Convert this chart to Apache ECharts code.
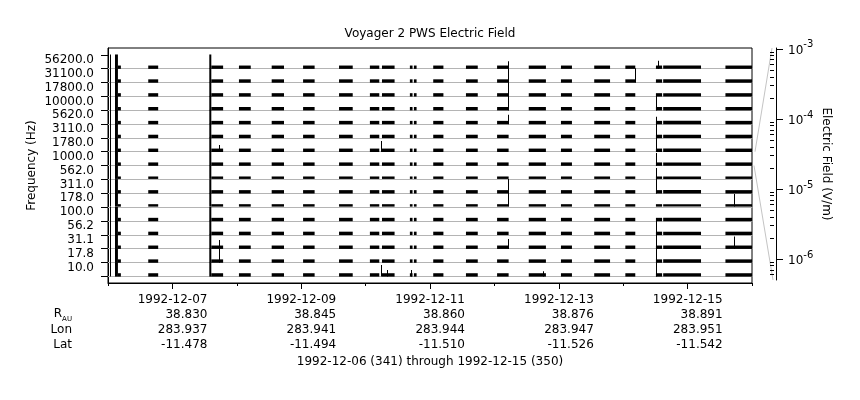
<!DOCTYPE html>
<html><head><meta charset="utf-8">
<script src="https://cdn.jsdelivr.net/npm/echarts@6/dist/echarts.min.js"></script>
<style>html,body{margin:0;padding:0;background:#fff}#c{width:860px;height:400px}</style>
</head><body><div id="c"></div>
<script>
// ---------------- data ----------------
// channel labels, bottom row first
const freqLabels = ['10.0','17.8','31.1','56.2','100.0','178.0','311.0','562.0','1000.0','1780.0','3110.0','5620.0','10000.0','17800.0','31100.0','56200.0'];
// x tick labels (hours since 1992-12-06 00:00)
const tickHours = [24, 72, 120, 168, 216];
const tickDates = ['1992-12-07','1992-12-09','1992-12-11','1992-12-13','1992-12-15'];
const tickR   = ['38.830','38.845','38.860','38.876','38.891'];
const tickLon = ['283.937','283.941','283.944','283.947','283.951'];
const tickLat = ['-11.478','-11.494','-11.510','-11.526','-11.542'];
// data coverage intervals [start h, end h]
const segments = [[3.7,4.8],[15.0,18.7],[38.5,42.9],[48.8,53.2],[61.0,65.6],[72.7,77.0],[86.1,91.2],
  [97.6,101.1],[102.1,106.8],[112.5,113.5],[114.0,115.0],[121.2,125.0],[133.4,137.8],[145.0,149.3],
  [156.8,163.2],[168.8,172.9],[181.2,187.1],[192.8,196.5],[204.2,206.5],[206.9,221.0],[230.1,240.0]];
// broadband bursts seen in every channel [start h, end h]
const bursts = [[0.9,1.25],[2.6,3.7],[37.75,38.5]];
const burstPeak = 1.2e-3;
// background envelope per channel (V/m), bottom row first
const rowLo = [4.3e-7,4.3e-7,4.3e-7,4.3e-7,4.3e-7,6.5e-7,4.3e-7,6.5e-7,4.3e-7,4.3e-7,4.3e-7,4.3e-7,4.3e-7,4.3e-7,4.3e-7,4.3e-7];
const rowHi = [2.8e-6,2.8e-6,2.8e-6,2.8e-6,2.8e-6,2.5e-6,2.8e-6,2.5e-6,2.8e-6,2.8e-6,2.8e-6,2.8e-6,2.8e-6,2.8e-6,2.8e-6,2.7e-6];
// isolated spikes [hour, channel index, peak V/m]
const spikes = [
  [41.7,9,2.0e-5],[41.7,1,1.2e-3],[41.7,2,6e-5],
  [102.1,9,1.9e-4],[102.1,0,2.7e-4],[104.3,0,1.7e-5],[113.2,0,1.7e-5],
  [149.3,15,2.9e-5],[149.3,14,1.2e-3],[149.3,13,1.2e-3],[149.3,12,1.2e-3],[149.3,11,8.5e-5],
  [149.3,6,1.2e-3],[149.3,5,1.2e-3],[149.3,2,1.0e-4],
  [162.2,0,8e-6],
  [196.5,14,1.2e-3],
  [205.1,15,4e-5],[204.4,12,1.2e-3],[204.4,11,2.9e-5],[204.4,10,1.2e-3],[204.4,9,1.2e-3],
  [204.4,8,5.1e-4],[204.4,7,2.8e-4],[204.4,6,1.2e-3],[204.4,3,1.2e-3],[204.4,2,1.2e-3],
  [204.4,1,1.2e-3],[204.4,0,1.2e-3],
  [233.3,5,7e-4],[233.3,2,3.8e-4]
];
const eMin = 5e-7, eMax = 1.03e-3;
const rightMajor = [1e-6,1e-5,1e-4,1e-3];
const rightMinor = [6e-7,7e-7,8e-7,9e-7,2e-6,3e-6,4e-6,5e-6,6e-6,7e-6,8e-6,9e-6,
  2e-5,3e-5,4e-5,5e-5,6e-5,7e-5,8e-5,9e-5,2e-4,3e-4,4e-4,5e-4,6e-4,7e-4,8e-4,9e-4];
const lensRow = 8; // channel shown on the right-hand scale

// ---------------- layout ----------------
const FONT = 'DejaVu Sans';
const L = 108, W = 644, TOP = 48, BOT = 283;
const base0 = 276.35, rowH = 13.85;
const yMinF = -(BOT - base0) / rowH, yMaxF = (base0 - TOP) / rowH;
const labelShift = 0.37; // labels sit just below the upper edge of their row

const chart = echarts.init(document.getElementById('c'), null, {renderer: 'canvas'});

const grids = [], xAxes = [], yAxes = [], series = [];
// grid 0: frame
grids.push({left: L, top: TOP, width: W, height: BOT - TOP, show: true, borderColor: '#000', borderWidth: 1,
  backgroundColor: 'transparent', containLabel: false, outerBoundsMode: 'none'});
xAxes.push({gridIndex: 0, type: 'value', min: 0, max: 240, interval: 24, position: 'bottom',
  axisLine: {show: true, onZero: false, lineStyle: {color: '#000', width: 1}},
  axisTick: {show: true, length: 3, lineStyle: {color: '#000'}},
  axisLabel: {show: false}, splitLine: {show: false}});
xAxes.push({gridIndex: 0, type: 'value', min: 0, max: 240, position: 'bottom',
  axisLine: {show: false, onZero: false},
  axisTick: {show: true, length: 6, customValues: tickHours, lineStyle: {color: '#000'}},
  axisLabel: {show: true, customValues: tickHours, margin: 9, hideOverlap: false,
    formatter: v => { const i = tickHours.indexOf(Math.round(v)); if (i < 0) return '';
      return '{a|' + tickDates[i] + '}\n{a|' + tickR[i] + '}\n{a|' + tickLon[i] + '}\n{a|' + tickLat[i] + '}'; },
    rich: {a: {width: 70, align: 'right', fontSize: 12, lineHeight: 15, color: '#000', fontFamily: FONT}}},
  splitLine: {show: false},
  name: '1992-12-06 (341) through 1992-12-15 (350)', nameLocation: 'middle', nameGap: 73, nameMoveOverlap: false,
  nameTextStyle: {fontSize: 12, color: '#000', fontFamily: FONT}});
const labelVals = freqLabels.map((f, k) => k + 1 - labelShift);
yAxes.push({gridIndex: 0, type: 'value', min: yMinF, max: yMaxF, position: 'left',
  axisLine: {show: true, onZero: false, lineStyle: {color: '#000', width: 1}},
  axisTick: {show: true, length: 7, customValues: [0,1,2,3,4,5,6,7,8,9,10,11,12,13,14,15,16], lineStyle: {color: '#000'}},
  axisLabel: {show: true, customValues: labelVals, margin: 14, hideOverlap: false,
    fontSize: 12, color: '#000', fontFamily: FONT,
    formatter: v => freqLabels[Math.round(v + labelShift) - 1] || ''},
  splitLine: {show: false},
  name: 'Frequency (Hz)', nameLocation: 'middle', nameGap: 70, nameRotate: 90, nameMoveOverlap: false,
  nameTextStyle: {fontSize: 12, color: '#000', fontFamily: FONT}});

// grid 1: right-hand electric field scale
grids.push({left: 770, top: TOP, width: 6, height: 232, show: false, containLabel: false, outerBoundsMode: 'none'});
xAxes.push({gridIndex: 1, type: 'value', min: 0, max: 1, show: false});
yAxes.push({gridIndex: 1, type: 'log', logBase: 10, min: eMin, max: eMax, position: 'right',
  axisLine: {show: true, onZero: false, lineStyle: {color: '#000', width: 1}},
  axisTick: {show: true, length: 7, customValues: rightMajor, lineStyle: {color: '#000'}},
  axisLabel: {show: true, customValues: rightMajor, margin: 12, hideOverlap: false,
    formatter: v => '{b|10}{s|' + Math.round(Math.log10(v)) + '}',
    rich: {b: {fontSize: 12, padding: [4,0,0,0], color: '#000', fontFamily: FONT},
           s: {fontSize: 10, padding: [0,0,8,0], color: '#000', fontFamily: FONT}}},
  splitLine: {show: false}, minorTick: {show: false},
  name: 'Electric Field (V/m)', nameLocation: 'middle', nameGap: 44, nameRotate: -90, nameMoveOverlap: false,
  nameTextStyle: {fontSize: 12, color: '#000', fontFamily: FONT}});
yAxes.push({gridIndex: 1, type: 'log', logBase: 10, min: eMin, max: eMax, position: 'right',
  axisLine: {show: false},
  axisTick: {show: true, length: 4, customValues: rightMinor, lineStyle: {color: '#000'}},
  axisLabel: {show: false}, splitLine: {show: false}});

// rows
function renderItem(params, api) {
  const t0 = api.value(0), t1 = api.value(1), lo = api.value(2), hi = api.value(3);
  const p0 = api.coord([t0, hi]);
  const p1 = api.coord([t1, lo]);
  let x = p0[0], w = p1[0] - p0[0];
  if (w < 1.5) { x = Math.floor((p0[0] + p1[0]) / 2); w = 1; }
  return {type: 'rect', shape: {x: x, y: p0[1], width: w, height: p1[1] - p0[1]}, style: {fill: '#000'}};
}
for (let k = 0; k < 16; k++) {
  const gi = 2 + k;
  grids.push({left: L, top: base0 - (k + 1) * rowH, width: W, height: rowH, show: false, containLabel: false, outerBoundsMode: 'none'});
  xAxes.push({gridIndex: gi, type: 'value', min: 0, max: 240, position: 'bottom',
    axisLine: {show: true, onZero: false, lineStyle: {color: '#b4b4b4', width: 1}},
    axisTick: {show: false}, axisLabel: {show: false}, splitLine: {show: false}});
  yAxes.push({gridIndex: gi, type: 'log', logBase: 10, min: eMin, max: eMax, show: false,
    axisLine: {show: false}, splitLine: {show: false}});
  const items = [];
  segments.forEach(s => items.push([s[0], s[1], rowLo[k], rowHi[k]]));
  bursts.forEach(b => items.push([b[0], b[1], rowLo[k], burstPeak]));
  spikes.filter(s => s[1] === k).forEach(s => items.push([s[0], s[0], rowLo[k], s[2]]));
  series.push({type: 'custom', name: freqLabels[k], xAxisIndex: 3 + k, yAxisIndex: 3 + k, clip: false,
    silent: true, renderItem: renderItem, data: items});
}

chart.setOption({
  animation: false,
  backgroundColor: '#fff',
  textStyle: {fontFamily: FONT, color: '#000'},
  title: {text: 'Voyager 2 PWS Electric Field', left: 'center', top: 28, padding: 0,
    textStyle: {fontSize: 12, fontWeight: 'normal', color: '#000', fontFamily: FONT}},
  grid: grids, xAxis: xAxes, yAxis: yAxes, series: series
});

// lens lines linking the lensRow band to the right-hand scale
const aTop = chart.convertToPixel({xAxisIndex: 2, yAxisIndex: 1}, [1, eMax]);
const aBot = chart.convertToPixel({xAxisIndex: 2, yAxisIndex: 1}, [1, eMin]);
const rTop = chart.convertToPixel({xAxisIndex: 3 + lensRow, yAxisIndex: 3 + lensRow}, [240, eMax]);
const rBot = chart.convertToPixel({xAxisIndex: 3 + lensRow, yAxisIndex: 3 + lensRow}, [240, eMin]);
const txt = (id, text, y) => ({type: 'text', id: id, silent: true,
  style: {text: text, x: 72, y: y, align: 'right', verticalAlign: 'middle', fontSize: 12, fontFamily: FONT, fill: '#000'}});
chart.setOption({graphic: [
  {type: 'line', id: 'lensTop', silent: true, shape: {x1: aTop[0] - 4, y1: aTop[1], x2: rTop[0] + 3, y2: rTop[1]},
    style: {stroke: '#c4c4c4', lineWidth: 1}},
  {type: 'line', id: 'lensBot', silent: true, shape: {x1: aBot[0] - 3, y1: aBot[1], x2: rBot[0] + 2, y2: rBot[1]},
    style: {stroke: '#c4c4c4', lineWidth: 1}},
  {type: 'text', id: 'rau', silent: true, style: {text: '{r|R}{s|AU}', x: 72, y: 314, align: 'right', verticalAlign: 'middle',
    fill: '#000', rich: {r: {fontSize: 12, fontFamily: FONT, fill: '#000'}, s: {fontSize: 7, fontFamily: FONT, padding: [10,0,0,0], fill: '#000'}}}},
  txt('lon', 'Lon', 329.5),
  txt('lat', 'Lat', 344.5)
]});
</script></body></html>
